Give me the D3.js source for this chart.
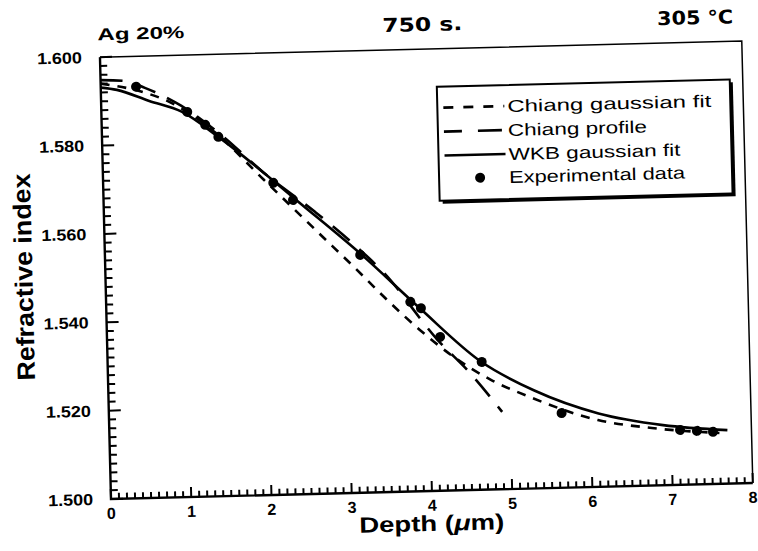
<!DOCTYPE html>
<html lang="en">
<head>
<meta charset="UTF-8">
<title>Ag 20% - Refractive index profile</title>
<script src="https://d3js.org/d3.v7.min.js"></script>
<style>
    body { margin: 0; background: #fff; color: #000; }
    svg { display: block; }
    text { font-family: "Liberation Sans", Arial, sans-serif; font-weight: bold; fill: #000; }
</style>
</head>
<body>
<svg id="chart" width="758" height="551"></svg>
<script>
    // values
    const xTicks = [0, 1, 2, 3, 4, 5, 6, 7, 8];
    const yTicks = [1.500, 1.520, 1.540, 1.560, 1.580, 1.600];
    const xMinorStep = 0.1, yMinorStep = 0.002;

    const wkbDepth = [0, 0.2, 0.6, 1.0, 1.45, 2.0, 2.4, 3.2, 3.9, 4.65, 5.3, 6.1, 6.9, 7.7];
    const wkbIndex = [1.5931, 1.5925, 1.5898, 1.5872, 1.5813, 1.5730, 1.5666, 1.5538, 1.5415, 1.5290, 1.5222, 1.5166, 1.5136, 1.5121];

    const chiangFitDepth = [0, 0.5, 0.85, 1.4, 2.0, 2.67, 3.11, 3.5, 3.9, 4.3, 4.77, 5.25, 6.09, 6.76, 7.6];
    const chiangFitIndex = [1.5940, 1.5920, 1.5895, 1.5825, 1.5714, 1.5590, 1.5509, 1.5435, 1.5365, 1.5304, 1.5248, 1.5207, 1.5151, 1.5130, 1.5115];

    const chiangProfDepth = [0, 0.3, 0.55, 1.0, 1.5, 2.0, 2.63, 3.07, 3.47, 4.12, 4.51, 4.9];
    const chiangProfIndex = [1.5948, 1.5945, 1.5928, 1.5885, 1.5815, 1.5730, 1.5638, 1.5568, 1.5496, 1.5341, 1.5265, 1.5175];

    const expDepth = [0.44, 1.07, 1.29, 1.45, 2.12, 2.36, 3.18, 3.79, 3.92, 4.15, 4.66, 5.64, 7.11, 7.32, 7.52];
    const expIndex = [1.5931, 1.5871, 1.5841, 1.5813, 1.5706, 1.5666, 1.5538, 1.5429, 1.5414, 1.5348, 1.5289, 1.5169, 1.5124, 1.5121, 1.5118];

    const legendLabels = ["Chiang gaussian fit", "Chiang profile", "WKB gaussian fit", "Experimental data"];

    const width = 758, height = 551;
    const plotLeft = 111, plotRight = 753, plotTop = 57, plotBottom = 499;

    const svg = d3.select("#chart");
    svg.append("rect").attr("width", width).attr("height", height).attr("fill", "#fff");

    // the scan is slightly tilted
    const g = svg.append("g").attr("transform", "rotate(-1.43," + plotLeft + "," + plotBottom + ")");

    const x = d3.scaleLinear().domain([0, 8]).range([plotLeft, plotRight]);
    const y = d3.scaleLinear().domain([1.5, 1.6]).range([plotBottom, plotTop]);

    const xMinor = d3.range(0, 8 + 1e-9, xMinorStep);
    const yMinor = d3.range(1.5, 1.6 + 1e-9, yMinorStep);

    // ticks point into the plot; long at labelled values (one path per axis)
    const xTickPath = xMinor.map((d, i) =>
        "M" + x(d) + "," + plotBottom + "v" + (-(i % 10 === 0 ? 10 : 6))).join("");
    const yTickPath = yMinor.map((d, i) =>
        "M" + plotLeft + "," + y(d) + "h" + (i % 10 === 0 ? 12 : 7)).join("");

    g.append("path").attr("d", xTickPath)
        .attr("fill", "none").attr("stroke", "#000").attr("stroke-width", 2);
    g.append("path").attr("d", yTickPath)
        .attr("fill", "none").attr("stroke", "#000").attr("stroke-width", 2);

    // frame: heavy left/bottom, light top/right
    g.append("path")
        .attr("d", "M" + plotLeft + "," + plotTop + "V" + plotBottom + "H" + plotRight)
        .attr("fill", "none").attr("stroke", "#000").attr("stroke-width", 2.4);
    g.append("path")
        .attr("d", "M" + plotLeft + "," + plotTop + "H" + plotRight + "V" + plotBottom)
        .attr("fill", "none").attr("stroke", "#000").attr("stroke-width", 1.5);

    // tick labels
    g.selectAll(".xl").data(xTicks).join("text").attr("class", "xl")
        .attr("x", d => x(d)).attr("y", plotBottom + 20)
        .attr("font-size", 16).attr("text-anchor", "middle")
        .text(d3.format("d"));
    g.selectAll(".yl").data(yTicks).join("text").attr("class", "yl")
        .attr("x", plotLeft - 18).attr("y", d => y(d)).attr("dy", "0.35em")
        .attr("font-size", 16).attr("text-anchor", "end")
        .attr("textLength", 45).attr("lengthAdjust", "spacingAndGlyphs")
        .text(d3.format(".3f"));

    const line = d3.line().x(d => x(d[0])).y(d => y(d[1])).curve(d3.curveMonotoneX);

    g.append("path").datum(d3.zip(chiangFitDepth, chiangFitIndex))
        .attr("d", line).attr("fill", "none").attr("stroke", "#000")
        .attr("stroke-width", 2.6).attr("stroke-dasharray", "9,8");

    g.append("path").datum(d3.zip(chiangProfDepth, chiangProfIndex))
        .attr("d", line).attr("fill", "none").attr("stroke", "#000")
        .attr("stroke-width", 2.6).attr("stroke-dasharray", "22,13");

    g.append("path").datum(d3.zip(wkbDepth, wkbIndex))
        .attr("d", line).attr("fill", "none").attr("stroke", "#000")
        .attr("stroke-width", 2.6);

    g.selectAll(".pt").data(d3.zip(expDepth, expIndex)).join("circle").attr("class", "pt")
        .attr("cx", d => x(d[0])).attr("cy", d => y(d[1]))
        .attr("r", 5).attr("fill", "#000");

    // titles
    g.append("text").attr("x", 109).attr("y", 40).attr("font-size", 17)
        .attr("textLength", 87).attr("lengthAdjust", "spacingAndGlyphs").text("Ag 20%");
    g.append("text").attr("x", 434).attr("y", 39).attr("font-size", 19)
        .attr("text-anchor", "middle").style("font-family", "'DejaVu Sans', sans-serif")
        .attr("textLength", 80).attr("lengthAdjust", "spacingAndGlyphs").text("750 s.");
    g.append("text").attr("x", 707).attr("y", 39).attr("font-size", 19)
        .attr("text-anchor", "middle").style("font-family", "'DejaVu Sans', sans-serif")
        .attr("textLength", 76).attr("lengthAdjust", "spacingAndGlyphs").text("305 °C");

    // axis titles
    const xt = g.append("text").attr("x", 431).attr("y", 539).attr("font-size", 22)
        .attr("text-anchor", "middle")
        .attr("textLength", 145).attr("lengthAdjust", "spacingAndGlyphs");
    xt.append("tspan").text("Depth (");
    xt.append("tspan").style("font-style", "italic").text("μ");
    xt.append("tspan").text("m)");

    g.append("text").attr("transform", "translate(38,275) rotate(-90)")
        .attr("font-size", 25).attr("text-anchor", "middle")
        .attr("textLength", 207).attr("lengthAdjust", "spacingAndGlyphs")
        .text("Refractive index");

    // legend
    const lg = { x: 447, y: 95, w: 293, h: 114 };
    g.append("rect").attr("x", lg.x + 3).attr("y", lg.y + 3).attr("width", lg.w).attr("height", lg.h).attr("fill", "#000");
    g.append("rect").attr("x", lg.x).attr("y", lg.y).attr("width", lg.w).attr("height", lg.h)
        .attr("fill", "#fff").attr("stroke", "#000").attr("stroke-width", 2);

    const rowY = [116, 140, 164, 187];
    const textLen = [204, 139, 172, 176];
    const dashes = ["10,10", "18,16,24", null, null];

    legendLabels.forEach((lab, i) => {
        if (i < 3) {
            g.append("line").attr("x1", 453).attr("x2", 514).attr("y1", rowY[i]).attr("y2", rowY[i])
                .attr("stroke", "#000").attr("stroke-width", 2.6)
                .attr("stroke-dasharray", dashes[i]);
        } else {
            g.append("circle").attr("cx", 488).attr("cy", rowY[i]).attr("r", 5).attr("fill", "#000");
        }
        g.append("text").attr("x", 517).attr("y", rowY[i] + 6).attr("font-size", 17)
            .style("font-weight", "normal")
            .attr("textLength", textLen[i]).attr("lengthAdjust", "spacingAndGlyphs")
            .text(lab);
    });
</script>
</body>
</html>
